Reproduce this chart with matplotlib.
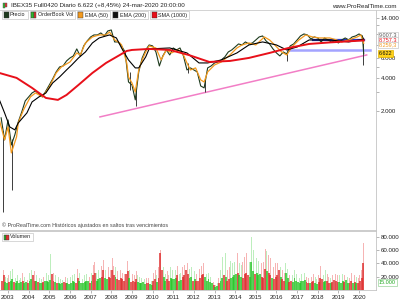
import numpy as np
import pandas as pd
import matplotlib
matplotlib.use("Agg")
import matplotlib.pyplot as plt
import matplotlib.dates as mdates
from matplotlib.patches import Rectangle
from matplotlib.lines import Line2D
from matplotlib.ticker import FixedLocator, NullFormatter

plt.rcParams["font.family"] = ["Liberation Sans", "DejaVu Sans"]

# IBEX35 continuous future (back-adjusted), closes every two months from Sep 2002
price_start = "2002-09-01"
price = [1730, 1090, 1655, 980, 1210, 1588, 1958, 2466, 2682, 2916,
         3040, 2855, 2682, 3040, 3450, 3910, 4525, 5025, 5130, 5700,
         6070, 6330, 7330, 6330, 7815, 8665, 9420, 9825, 9825, 10245,
         9620, 10680, 10905, 8485, 8485, 7815, 6880, 3670, 3450, 2520,
         4525, 6070, 7175, 7967, 7815, 6880, 5130, 6330, 7175, 6460,
         7480, 7175, 7480, 6330, 4720, 4925, 4720, 4525, 3375, 3240,
         4925, 5130, 5465, 5580, 5820, 6195, 6880, 7175, 7640, 8135,
         7967, 8485, 8135, 8305, 8845, 9420, 9620, 8665, 8135, 7330,
         6740, 6330, 6880, 6600, 7815, 8135, 8845, 9620, 10030, 9825,
         9030, 9420, 9225, 8485, 9225, 8845, 8485, 8665, 8305, 8845,
         9225, 8845, 9420, 9620, 10030, 9620]
last_date = "2020-03-24"
last_close = 6622

# extreme bars (low / high)
wick_dates = ["2002-10-10", "2003-03-10", "2008-11-20", "2009-03-06",
              "2011-09-12", "2012-07-24", "2016-06-27", "2020-03-16"]
wick_lows = [242, 383, 3105, 2200, 4430, 2980, 5700, 5240]
wick_highs = [1300, 1100, 4500, 3300, 5500, 3900, 6900, 9400]

ema50_dates = ["2002-08", "2002-11", "2003-01", "2003-03", "2003-06", "2003-07",
               "2003-10", "2004-02", "2004-05", "2004-09", "2005-01", "2005-05",
               "2005-08", "2006-01", "2006-05", "2006-07", "2006-10", "2007-02",
               "2007-06", "2007-10", "2007-12", "2008-03", "2008-06", "2008-07",
               "2008-10", "2008-11", "2009-01", "2009-03", "2009-05", "2009-07",
               "2009-09", "2009-11", "2010-03", "2010-06", "2010-09", "2010-12",
               "2011-04", "2011-07", "2011-09", "2011-11", "2012-02", "2012-05",
               "2012-07", "2012-09", "2013-01", "2013-05", "2013-10", "2014-02",
               "2014-05", "2014-09", "2015-01", "2015-06", "2015-09", "2015-12",
               "2016-04", "2016-07", "2016-10", "2017-02", "2017-06", "2017-10",
               "2018-02", "2018-08", "2018-12", "2019-03", "2019-07", "2019-12",
               "2020-02", "2020-03-24"]
ema50 = [1655, 1090, 1430, 830, 1160, 1555,
         2040, 2682, 2916, 2682, 3306, 4430,
         5025, 5580, 6740, 6460, 8305, 9420,
         9825, 9825, 10460, 8845, 8305, 7967,
         5465, 4076, 3595, 2980, 4720, 5820,
         6880, 7815, 7480, 5820, 7175, 6740,
         7175, 6460, 5465, 4720, 4925, 3830,
         3670, 4525, 5240, 5580, 6460, 7480,
         7967, 8305, 7967, 9420, 8845, 7967,
         6880, 6460, 7640, 8845, 9825, 9420,
         9225, 9225, 8845, 8485, 8845, 9420,
         9825, 8259]

ema200_dates = ["2002-08", "2002-11", "2003-02", "2003-05", "2003-07", "2003-12",
                "2004-03", "2004-07", "2004-11", "2005-03", "2005-07", "2005-11",
                "2006-02", "2006-06", "2006-10", "2007-02", "2007-06", "2007-12",
                "2008-04", "2008-07", "2008-11", "2009-03", "2009-05", "2009-09",
                "2009-11", "2010-11", "2011-09", "2012-04", "2012-09", "2013-05",
                "2014-02", "2014-09", "2015-05", "2016-01", "2016-07", "2017-01",
                "2017-08", "2018-08", "2019-07", "2020-03-24"]
ema200 = [2520, 1918, 1430, 1345, 1555, 1918,
          2415, 2682, 2916, 3595, 4076, 4720,
          5240, 6070, 6880, 8305, 9225, 9825,
          9225, 7480, 5820, 4925, 4925, 6195,
          7330, 7480, 6740, 5465, 5465, 5820,
          6740, 7967, 8485, 7967, 7175, 7640,
          8845, 8845, 8485, 9007]

sma1000_dates = ["2002-08", "2003-06", "2004-03", "2004-11", "2005-06", "2005-11",
                 "2006-06", "2007-02", "2007-10", "2008-06", "2008-10", "2009-01",
                 "2009-11", "2010-11", "2011-10", "2012-10", "2013-10", "2014-09",
                 "2015-09", "2016-08", "2017-08", "2018-08", "2019-07", "2020-03-24"]
sma1000 = [4430, 3995, 3240, 2625, 2520, 2795,
           3450, 4430, 5465, 6460, 7025, 7175,
           7330, 7175, 6460, 5580, 5700, 6070,
           6740, 7480, 8135, 8400, 8600, 8757]

# drawn lines
trend_dates = ["2007-06-15", "2020-05-15"]
trend_vals = [1764, 6460]
support_dates = ["2016-08-01", "2020-07-10"]
support_level = 7175
resist_dates = ["2017-10-01", "2020-03-20"]
resist_level = 8900

# monthly volume (thousands), Sep 2002 - Mar 2020
vol_start = "2002-09-01"
vol = [14, 22, 12, 10,
       12, 14, 16, 12, 11, 13, 10, 12, 14, 11, 12, 10,
       13, 16, 22, 14, 13, 12, 11, 10, 12, 14, 13, 12,
       15, 24, 14, 12, 10, 11, 9, 10, 12, 11, 10, 9,
       11, 13, 12, 10, 18, 14, 11, 10, 12, 14, 13, 11,
       14, 22, 26, 14, 16, 18, 20, 30, 18, 16, 20, 18,
       30, 22, 20, 16, 15, 18, 16, 14, 24, 28, 18, 12,
       14, 12, 16, 12, 11, 10, 12, 9, 11, 10, 9, 8,
       14, 16, 12, 18, 56, 30, 20, 14, 16, 13, 18, 16,
       16, 18, 22, 14, 15, 20, 22, 30, 24, 18, 20, 14,
       16, 14, 13, 18, 22, 24, 20, 14, 16, 12, 10, 8,
       5, 6, 10, 14, 18, 22, 20, 14, 16, 18, 20, 22,
       24, 26, 22, 20, 18, 24, 26, 22, 20, 42, 28, 24,
       26, 22, 24, 20, 18, 32, 28, 26, 22, 18, 16, 20,
       22, 30, 20, 16, 14, 26, 18, 12, 14, 12, 18, 14,
       12, 11, 14, 13, 15, 12, 11, 10, 12, 14, 11, 9,
       12, 18, 16, 12, 14, 13, 11, 10, 12, 15, 13, 12,
       12, 11, 13, 12, 15, 11, 10, 14, 11, 12, 11, 10,
       13, 18, 40]
vol_peak = [25, 30, 20, 18,
            22, 28, 32, 20, 18, 22, 15, 18, 25, 20, 18, 15,
            25, 30, 45, 28, 22, 20, 18, 16, 20, 24, 25, 22,
            54, 40, 26, 22, 18, 20, 16, 15, 22, 20, 18, 15,
            20, 22, 24, 20, 32, 26, 18, 16, 22, 24, 22, 20,
            26, 38, 42, 25, 30, 32, 36, 45, 30, 28, 34, 30,
            48, 36, 34, 28, 25, 30, 26, 24, 40, 44, 30, 22,
            24, 22, 28, 22, 20, 18, 20, 16, 18, 18, 16, 14,
            26, 30, 22, 34, 60, 50, 34, 24, 28, 22, 34, 30,
            28, 30, 36, 24, 26, 34, 38, 46, 40, 32, 34, 24,
            28, 24, 24, 32, 36, 40, 34, 24, 26, 20, 16, 12,
            8, 10, 18, 30, 50, 42, 56, 30, 34, 44, 40, 42,
            44, 55, 40, 38, 42, 50, 56, 44, 42, 80, 60, 50,
            48, 44, 46, 40, 42, 62, 58, 52, 48, 38, 34, 40,
            40, 42, 34, 30, 26, 40, 32, 22, 24, 22, 30, 24,
            20, 18, 24, 22, 26, 20, 18, 16, 20, 24, 20, 16,
            22, 36, 28, 22, 30, 24, 20, 18, 22, 28, 24, 22,
            22, 20, 24, 22, 28, 20, 18, 26, 20, 22, 20, 18,
            22, 30, 70]
updown = ("dduu"
          "duuduuuuduud" "uudduduuduuu" "udduduuudduu" "uuudduuuuuud"
          "udduuudduudd" "ddudddddddud" "ddduuuuudduu" "dduddduudduu"
          "uuduudddduud" "uddddduuuuud" "uuduududduuu" "uduudddduuud"
          "uuuddduddudd" "ddudduudduuu" "uuuuuddudduu" "ddduuddudddd"
          "uuuduuddudud"
          "ddd")


def dates(strings):
    return pd.to_datetime(strings, format="mixed")


W, H = 400, 300
fig = plt.figure(figsize=(4, 3), dpi=100)


def fx(x):
    return x / W


def fy(y):
    return 1 - y / H


ax = fig.add_axes([0, fy(230), fx(376), (230 - 10) / H])
vax = fig.add_axes([0, fy(290), fx(376), (290 - 231) / H])

# --- price panel
ax.set_yscale("log")
ax.set_ylim(165, 16570)
xmin, xmax = pd.Timestamp("2002-08-12"), pd.Timestamp("2020-10-27")
ax.set_xlim(xmin, xmax)

ax.plot(dates(trend_dates), trend_vals, color="#f27ec6", lw=1.1)
ax.plot(dates(support_dates), [support_level] * 2, color="#a4a4ff", lw=1.8)
ax.plot(dates(resist_dates), [resist_level] * 2, color="#2233cc", lw=1.6)

t_price = list(pd.date_range(price_start, periods=len(price), freq="2MS")) + [pd.Timestamp(last_date)]
ax.vlines(dates(wick_dates), wick_lows, wick_highs, color="#3c3c3c", lw=0.7)
ax.plot(t_price, price + [last_close], color="#1d3a1d", lw=0.8)
ax.plot(dates(ema50_dates), ema50, color="#f39a1e", lw=0.9)
ax.plot(dates(ema200_dates), ema200, color="black", lw=0.8)
ax.plot(dates(sma1000_dates), sma1000, color="#e8101a", lw=1.4)

ax.yaxis.tick_right()
ax.set_yticks([2000, 4000, 6000, 14000])
ax.set_yticklabels(["2.000", "4.000", "6.000", "14.000"])
ax.yaxis.set_minor_locator(FixedLocator([3000, 5000, 8000, 10000, 12000]))
ax.yaxis.set_minor_formatter(NullFormatter())
ax.tick_params(axis="y", which="both", direction="out", length=2, width=0.5,
               colors="#999999", labelcolor="#222222", labelsize=4.4, pad=1.5)
ax.tick_params(axis="x", which="both", bottom=False, labelbottom=False)
for s in ["left", "top"]:
    ax.spines[s].set_visible(False)
for s in ["right", "bottom"]:
    ax.spines[s].set_color("#c4c4c4")
    ax.spines[s].set_linewidth(0.6)

# --- volume panel
vdates = pd.date_range(vol_start, periods=len(vol), freq="MS") + pd.Timedelta(days=15)
sat = ["#22c422" if c == "u" else "#dd2a2a" for c in updown]
pale = ["#bdeebd" if c == "u" else "#f6b4b4" for c in updown]
vax.bar(vdates, np.array(vol_peak) * 1000, width=14, color=pale, lw=0)
vax.bar(vdates, np.array(vol) * 1000, width=34, color=sat, alpha=0.75, lw=0)
vax.set_xlim(xmin, xmax)
vax.set_ylim(0, 88500)
vax.yaxis.tick_right()
vax.set_yticks([20000, 40000, 60000, 80000])
vax.set_yticklabels(["20.000", "40.000", "60.000", "80.000"])
vax.xaxis.set_major_locator(mdates.YearLocator())
vax.xaxis.set_major_formatter(mdates.DateFormatter("%Y"))
vax.tick_params(axis="both", direction="out", length=2, width=0.5, colors="#999999",
                labelcolor="#222222", labelsize=4.4, pad=1.5)
vax.spines["left"].set_visible(False)
for s in ["right", "top", "bottom"]:
    vax.spines[s].set_color("#c4c4c4")
    vax.spines[s].set_linewidth(0.6)

# --- header and legends
fig.add_artist(Rectangle((fx(2.5), fy(8)), fx(2), 5 / H, fc="#2db52d", ec="#555555", lw=0.3))
fig.add_artist(Rectangle((fx(5), fy(7)), fx(2), 4 / H, fc="#e03030", ec="#555555", lw=0.3))
fig.text(fx(11), fy(5.5), "IBEX35 Full0420 Diario 6.622 (+8,45%) 24-mar-2020 20:00:00",
         fontsize=4.5, va="center", color="#222222")
fig.text(fx(397), fy(6), "www.ProRealTime.com", fontsize=4.5, ha="right", va="center", color="#222222")
fig.add_artist(Line2D([0, 1], [fy(9.5)] * 2, color="#cccccc", lw=0.6))

renderer = fig.canvas.get_renderer()


def legend_item(x0, y0, label, colors):
    t = fig.text(fx(x0 + 8), fy(y0 + 4), label, fontsize=3.9, va="center", color="#222222", zorder=3)
    w = t.get_window_extent(renderer).width
    x1 = x0 + 8 + w + 2
    fig.add_artist(Rectangle((fx(x0), fy(y0 + 8)), fx(x1 - x0), 8 / H,
                             fc="white", ec="#c8c8c8", lw=0.5, zorder=1))
    n = len(colors)
    for i, c in enumerate(colors):
        fig.add_artist(Rectangle((fx(x0 + 1.5 + 5 * i / n), fy(y0 + 6.5)), fx(5 / n), 5 / H,
                                 fc=c, ec="#333333", lw=0.3, zorder=2))
    return x1 + 2


x = 2
for label, cols in [("Precio", ["#1d3a1d"]),
                    ("OrderBook Vol", ["#2db52d", "#e03030"]),
                    ("EMA (50)", ["#f39a1e"]),
                    ("EMA (200)", ["#111111"]),
                    ("SMA (1000)", ["#e8101a"])]:
    x = legend_item(x, 11, label, cols)
legend_item(2, 233, "Volumen", ["#2db52d", "#e03030"])

fig.text(fx(2), fy(225), "\u00a9 ProRealTime.com Históricos ajustados en saltos tras vencimientos",
         fontsize=3.9, va="center", color="#444444")


def value_box(y, s, color, fc="white", ec="#c8c8c8"):
    fig.text(fx(379), fy(y), s, fontsize=4.0, va="center", color=color,
             bbox=dict(boxstyle="square,pad=0.15", fc=fc, ec=ec, lw=0.5))


value_box(35, "9.007,3", "#555555")
value_box(40, "8.757,3", "#e8101a")
value_box(45, "8.259,3", "#f39a1e")
value_box(53.5, "6.622", "#111111", fc="#ffd21a", ec="#e0b000")
value_box(282.5, "15.000", "#22a822", fc="white", ec="#9ad59a")

fig.savefig("out.png", dpi=100)
